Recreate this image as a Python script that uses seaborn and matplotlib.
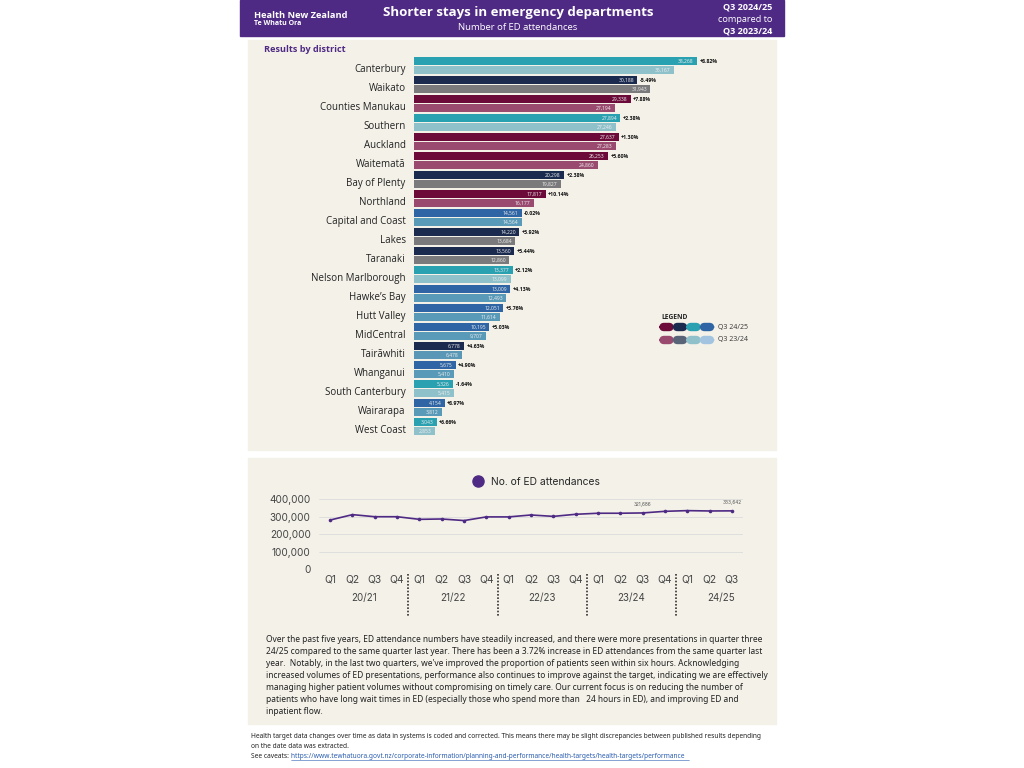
import numpy as np
import pandas as pd
import matplotlib
matplotlib.use("Agg")
import matplotlib.pyplot as plt
from matplotlib.patches import Rectangle, FancyBboxPatch
from matplotlib.lines import Line2D
from matplotlib import transforms
import seaborn as sns

# ---------------- data ----------------
districts = ["Canterbury", "Waikato", "Counties Manukau", "Southern", "Auckland",
             "Waitematā", "Bay of Plenty", "Northland", "Capital and Coast", "Lakes",
             "Taranaki", "Nelson Marlborough", "Hawke’s Bay", "Hutt Valley", "MidCentral",
             "Tairāwhiti", "Whanganui", "South Canterbury", "Wairarapa", "West Coast"]
q3_2425 = [38268, 30188, 29338, 27894, 27637, 26253, 20298, 17817, 14561, 14220,
           13560, 13377, 13009, 12051, 10195, 6778, 5675, 5326, 4154, 3043]
q3_2324 = [35167, 31943, 27194, 27246, 27283, 24860, 19827, 16177, 14564, 13684,
           12860, 13099, 12493, 11614, 9707, 6478, 5410, 5415, 3812, 2853]
pct_change = ["+8.82%", "-5.49%", "+7.88%", "+2.38%", "+1.30%", "+5.60%", "+2.38%",
              "+10.14%", "-0.02%", "+3.92%", "+5.44%", "+2.12%", "+4.13%", "+3.76%",
              "+5.03%", "+4.63%", "+4.90%", "-1.64%", "+8.97%", "+6.66%"]
district_family = ["teal", "navy", "maroon", "teal", "maroon", "maroon", "navy", "maroon",
                   "blue", "navy", "navy", "teal", "blue", "blue", "blue", "navy2",
                   "blue", "teal", "blue", "teal"]

quarters = ["Q1", "Q2", "Q3", "Q4"] * 4 + ["Q1", "Q2", "Q3"]
years = ["20/21", "21/22", "22/23", "23/24", "24/25"]
attendances = [281000, 312000, 300000, 300000, 285000, 287000, 278000, 299000,
               299000, 310000, 302000, 314000, 320000, 320000, 321686, 331000,
               335000, 333000, 333642]

# ---------------- style ----------------
families = {
    "maroon": ("#6c0b39", "#9a4a6f"),
    "navy": ("#1b2a4f", "#7a7a7c"),
    "navy2": ("#1b2a4f", "#5a97b6"),
    "teal": ("#2aa1b1", "#8fc1cb"),
    "blue": ("#2f65a4", "#5a9ab9"),
}
PURPLE = "#4f2a84"
BEIGE = "#f3f1e8"
W, H = 1024, 768

sns.set_theme(style="white")
plt.rcParams["font.family"] = ["Open Sans", "DejaVu Sans"]

fig = plt.figure(figsize=(W / 100, H / 100), dpi=100)
fig.patch.set_facecolor("white")


def rect(x0, y0, x1, y1):
    return [x0 / W, 1 - y1 / H, (x1 - x0) / W, (y1 - y0) / H]


def fx(x):
    return x / W


def fy(y):
    return 1 - y / H


# header band and panels
for (x0, y0, x1, y1, c) in [(240, 0, 784, 36, PURPLE), (248, 40, 776, 450, BEIGE),
                            (248, 458, 776, 724, BEIGE)]:
    fig.patches.append(Rectangle((fx(x0), fy(y1)), (x1 - x0) / W, (y1 - y0) / H,
                                 transform=fig.transFigure, color=c, zorder=-5))

# header texts
fig.text(fx(254), fy(15), "Health New Zealand", color="white", fontsize=6.7,
         fontweight="bold", ha="left", va="center")
fig.text(fx(254), fy(23.5), "Te Whatu Ora", color="white", fontsize=5.0,
         fontweight="bold", ha="left", va="center")
fig.text(fx(518), fy(12.5), "Shorter stays in emergency departments", color="white",
         fontsize=9.5, fontweight="bold", ha="center", va="center")
fig.text(fx(518), fy(27.5), "Number of ED attendances", color="white", fontsize=6.8,
         ha="center", va="center")
fig.text(fx(772), fy(7), "Q3 2024/25", color="white", fontsize=6.6, fontweight="bold",
         ha="right", va="center")
fig.text(fx(772), fy(19), "compared to", color="white", fontsize=6.6,
         ha="right", va="center")
fig.text(fx(772), fy(31), "Q3 2023/24", color="white", fontsize=6.6, fontweight="bold",
         ha="right", va="center")

fig.text(fx(264), fy(50), "Results by district", color=PURPLE, fontsize=6.6,
         fontweight="bold", ha="left", va="center")

# ---------------- bar chart ----------------
axb = fig.add_axes(rect(414, 56, 710, 436))
axb.set_facecolor("none")
df = pd.DataFrame({
    "district": districts * 2,
    "period": ["Q3 24/25"] * len(districts) + ["Q3 23/24"] * len(districts),
    "value": q3_2425 + q3_2324,
})
sns.barplot(data=df, y="district", x="value", hue="period", orient="h", ax=axb,
            width=0.94, gap=0.06, legend=False, saturation=1,
            palette=["#333333", "#999999"], errorbar=None)
axb.set_xlim(0, 40000)
axb.set_ylim(len(districts) - 0.5, -0.5)
for hi, cont in enumerate(axb.containers):
    vals = q3_2425 if hi == 0 else q3_2324
    for i, patch in enumerate(cont):
        patch.set_facecolor(families[district_family[i]][hi])
        patch.set_edgecolor("none")
        yc = patch.get_y() + patch.get_height() / 2
        axb.annotate(f"{vals[i]:,}", (vals[i], yc), xytext=(-2.5, 0),
                     textcoords="offset points", ha="right", va="center",
                     fontsize=3.6, color="#f0f0f0")
        if hi == 0:
            axb.annotate(pct_change[i], (vals[i], yc), xytext=(1.5, 0),
                         textcoords="offset points", ha="left", va="center",
                         fontsize=3.8, fontweight="bold", color="#111111",
                         annotation_clip=False)
for s in axb.spines.values():
    s.set_visible(False)
axb.set_xticks([])
axb.set_xlabel("")
axb.set_ylabel("")
axb.tick_params(axis="y", length=0, pad=6, labelsize=7, labelcolor="#222222")
shift = transforms.ScaledTranslation(0, -2.2 / 100, fig.dpi_scale_trans)
for lab in axb.get_yticklabels():
    lab.set_transform(lab.get_transform() + shift)

# legend (bar chart)
fig.text(fx(661), fy(317), "LEGEND", fontsize=4.8, fontweight="bold", color="#222222",
         ha="left", va="center")
order = ["maroon", "navy", "teal", "blue"]
legend_light = {"maroon": "#9a4a6f", "navy": "#5a6478", "teal": "#8fc1cb", "blue": "#a3c4e0"}
for row, (yy, label) in enumerate([(327, "Q3 24/25"), (340, "Q3 23/24")]):
    for k, fam in enumerate(order):
        col = families[fam][0] if row == 0 else legend_light[fam]
        x0 = 660 + k * 13.5
        fig.patches.append(FancyBboxPatch((fx(x0), fy(yy + 3.5)), 13 / W, 7 / H,
                                          boxstyle="round,pad=0,rounding_size=0.004",
                                          transform=fig.transFigure, color=col,
                                          mutation_aspect=W / H))
    fig.text(fx(718), fy(yy), label, fontsize=5, color="#333333", ha="left", va="center")

# ---------------- line chart ----------------
LFONT = ["Inter", "DejaVu Sans"]
axl = fig.add_axes(rect(319, 499.3, 743, 569))
axl.set_facecolor("none")
ldf = pd.DataFrame({"idx": np.arange(len(attendances)), "value": attendances})
sns.lineplot(data=ldf, x="idx", y="value", ax=axl, color=PURPLE, linewidth=1.2,
             marker="o", markersize=2.6, markeredgewidth=0, clip_on=False)
axl.set_xlim(-0.5, len(attendances) - 0.5)
axl.set_ylim(0, 400000)
axl.set_yticks([0, 100000, 200000, 300000, 400000])
axl.set_yticklabels(["0", "100,000", "200,000", "300,000", "400,000"],
                    fontsize=7.2, color="#444444", family=LFONT)
axl.set_xticks(np.arange(len(attendances)))
axl.set_xticklabels(quarters, fontsize=7.4, color="#444444", family=LFONT)
axl.tick_params(axis="both", length=0)
axl.tick_params(axis="x", pad=4)
axl.tick_params(axis="y", pad=6)
axl.grid(axis="y", color="#dcdcdc", linewidth=0.6)
axl.grid(axis="x", visible=False)
for s in axl.spines.values():
    s.set_visible(False)
axl.set_xlabel("")
axl.set_ylabel("")
for i in (14, 18):
    axl.annotate(f"{attendances[i]:,}", (i, attendances[i]), xytext=(0, 4),
                 textcoords="offset points", ha="center", va="bottom",
                 fontsize=3.4, color="#555555", family=LFONT)

blend = transforms.blended_transform_factory(axl.transData, axl.transAxes)
group_sizes = [4, 4, 4, 4, 3]
start = 0
for gi, (yr, n) in enumerate(zip(years, group_sizes)):
    centre = start + (n - 1) / 2 + (0.5 if gi == len(years) - 1 else 0)
    axl.text(centre, -0.42, yr, transform=blend, ha="center", va="center",
             fontsize=7, color="#444444", family=LFONT)
    if gi > 0:
        axl.add_line(Line2D([start - 0.5, start - 0.5], [-0.07, -0.69], transform=blend,
                            color="#333333", linestyle=(0, (1, 1)), linewidth=1.2,
                            clip_on=False))
    start += n

leg_handle = Line2D([], [], marker="o", color=PURPLE, linestyle="None", markersize=8)
fig.legend([leg_handle], ["No. of ED attendances"], loc="center",
           bbox_to_anchor=(fx(534), fy(482)), frameon=False,
           prop={"family": LFONT, "size": 7.4}, handletextpad=0.3, borderpad=0)

# ---------------- paragraph ----------------
para = [
    "Over the past five years, ED attendance numbers have steadily increased, and there were more presentations in quarter three",
    "24/25 compared to the same quarter last year. There has been a 3.72% increase in ED attendances from the same quarter last",
    "year.  Notably, in the last two quarters, we've improved the proportion of patients seen within six hours. Acknowledging",
    "increased volumes of ED presentations, performance also continues to improve against the target, indicating we are effectively",
    "managing higher patient volumes without compromising on timely care. Our current focus is on reducing the number of",
    "patients who have long wait times in ED (especially those who spend more than   24 hours in ED), and improving ED and",
    "inpatient flow.",
]
for i, line in enumerate(para):
    fig.text(fx(266), fy(639 + i * 12.1), line, fontsize=6.05, color="#222222",
             ha="left", va="center", family=["Noto Sans", "DejaVu Sans"])

foot = [
    "Health target data changes over time as data in systems is coded and corrected. This means there may be slight discrepancies between published results depending",
    "on the date data was extracted.",
]
for i, line in enumerate(foot):
    fig.text(fx(251), fy(737 + i * 9.5), line, fontsize=4.78, color="#222222",
             ha="left", va="center", family=["Noto Sans", "DejaVu Sans"])
fig.text(fx(251), fy(756), "See caveats: ", fontsize=4.78, color="#222222",
         ha="left", va="center", family=["Noto Sans", "DejaVu Sans"])
fig.text(fx(291), fy(756),
         "https://www.tewhatuora.govt.nz/corporate-information/planning-and-performance/health-targets/health-targets/performance ",
         fontsize=4.78, color="#2a5db0", ha="left", va="center",
         family=["Noto Sans", "DejaVu Sans"])
fig.add_artist(Line2D([fx(291), fx(689)], [fy(760), fy(760)], transform=fig.transFigure,
                      color="#2a5db0", linewidth=0.4))

fig.savefig("out.png", dpi=100, facecolor="white")
